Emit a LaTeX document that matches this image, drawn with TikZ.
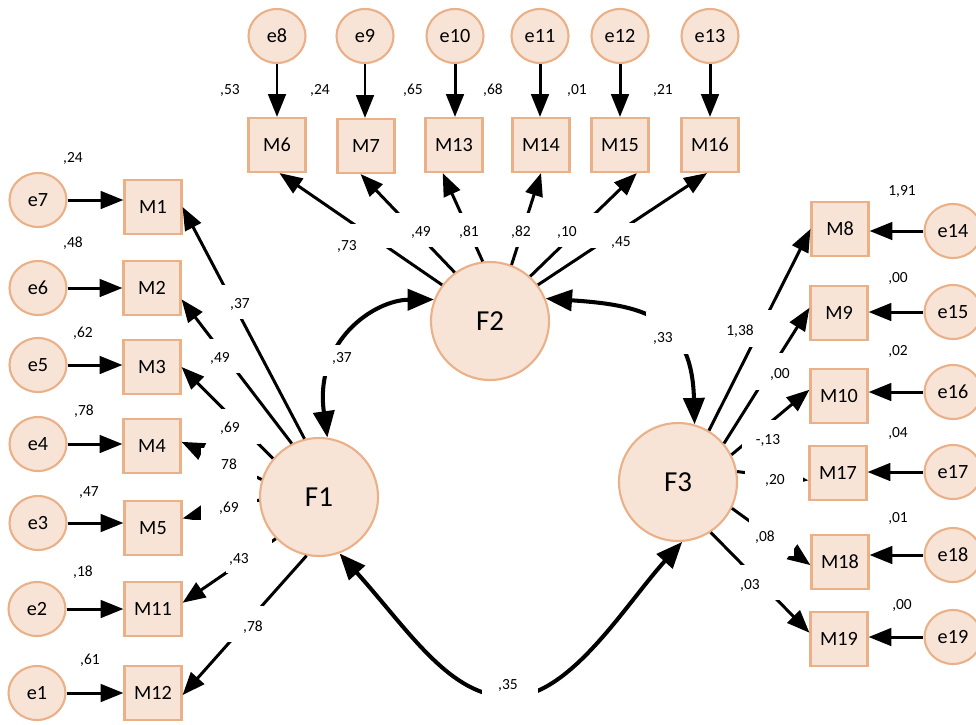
\documentclass[tikz,border=0pt]{standalone}
\usepackage{fontspec}
\setmainfont{Carlito}
\usetikzlibrary{arrows.meta,shapes.geometric}
\definecolor{nodefill}{HTML}{F7E4D6}
\definecolor{nodeline}{HTML}{EAB087}
\tikzset{
  obs/.style={rectangle, draw=nodeline, fill=nodefill, line width=1.2pt,
    minimum width=1.14cm, minimum height=1.08cm, inner sep=0pt,
    font=\fontsize{11.5}{13}\selectfont},
  err/.style={ellipse, draw=nodeline, fill=nodefill, line width=1.2pt,
    minimum width=1.14cm, minimum height=1.08cm, inner sep=0pt,
    font=\fontsize{11.5}{13}\selectfont},
  lat/.style={circle, draw=nodeline, fill=nodefill, line width=1.2pt,
    minimum size=2.36cm, inner sep=0pt, font=\fontsize{16.5}{18}\selectfont},
  regarrow/.style={line width=1.7pt, -{Triangle[length=13pt,width=10pt]}},
  covarrow/.style={line width=2.3pt,
    {Triangle[length=15pt,width=12pt]}-{Triangle[length=15pt,width=12pt]}},
  coef/.style={inner sep=0pt, font=\fontsize{8.8}{10}\selectfont},
  labelmask/.style={fill=white},
}
\begin{document}
\begin{tikzpicture}[x=0.02cm, y=-0.02cm]
\useasboundingbox (0,0) rectangle (976,724);

% latent factors
\node[lat] (F1) at (319,497) {F1};
\node[lat] (F2) at (490,321) {F2};
\node[lat] (F3) at (678,482) {F3};

% left block: indicators of F1 and their errors
\node[obs] (M1)  at (153,207) {M1};
\node[obs] (M2)  at (152,288) {M2};
\node[obs] (M3)  at (152,367) {M3};
\node[obs] (M4)  at (152,446) {M4};
\node[obs] (M5)  at (153,528) {M5};
\node[obs] (M11) at (153,609) {M11};
\node[obs] (M12) at (153,693) {M12};
\node[err] (e7) at (38,200) {e7};
\node[err] (e6) at (38,288) {e6};
\node[err] (e5) at (38,365) {e5};
\node[err] (e4) at (38,444) {e4};
\node[err] (e3) at (38,523) {e3};
\node[err] (e2) at (37,609) {e2};
\node[err] (e1) at (37,693) {e1};

% top block: indicators of F2 and their errors
\node[obs] (M6)  at (277,145) {M6};
\node[obs] (M7)  at (366,146) {M7};
\node[obs] (M13) at (454,145) {M13};
\node[obs] (M14) at (541,145) {M14};
\node[obs] (M15) at (620,145) {M15};
\node[obs] (M16) at (710,145) {M16};
\node[err] (e8)  at (277,36) {e8};
\node[err] (e9)  at (365,36) {e9};
\node[err] (e10) at (455,36) {e10};
\node[err] (e11) at (540,36) {e11};
\node[err] (e12) at (620,36) {e12};
\node[err] (e13) at (710,36) {e13};

% right block: indicators of F3 and their errors
\node[obs] (M8)  at (840,229) {M8};
\node[obs] (M9)  at (839,313) {M9};
\node[obs] (M10) at (839,396) {M10};
\node[obs] (M17) at (838,473) {M17};
\node[obs] (M18) at (840,562) {M18};
\node[obs] (M19) at (839,639) {M19};
\node[err] (e14) at (953,231) {e14};
\node[err] (e15) at (953,312) {e15};
\node[err] (e16) at (953,392) {e16};
\node[err] (e17) at (953,472) {e17};
\node[err] (e18) at (953,555) {e18};
\node[err] (e19) at (953,637) {e19};

% error terms
\foreach \e/\m in {e7/M1,e6/M2,e5/M3,e4/M4,e3/M5,e2/M11,e1/M12}
  \draw[regarrow] (\e) -- (\e -| \m.west);
\foreach \e/\m in {e8/M6,e9/M7,e10/M13,e11/M14,e12/M15,e13/M16}
  \draw[regarrow] (\e) -- (\e |- \m.north);
\foreach \e/\m in {e14/M8,e15/M9,e16/M10,e17/M17,e18/M18,e19/M19}
  \draw[regarrow] (\e) -- (\e -| \m.east);

% loadings of F1
\draw[regarrow] (F1.104) -- (M1.east);
\draw[regarrow] (F1.117) -- (M2.-21);
\draw[regarrow] (F1.140) -- (M3.east);
\draw[regarrow] (F1.163) -- (M4.8);
\draw[regarrow] (F1.183) -- (M5.18);
\draw[regarrow] (F1.224) -- (M11.12);
\draw[regarrow] (F1.258) -- (M12.-4);

% loadings of F2
\draw[regarrow] (F2.143) -- (M6.-85);
\draw[regarrow] (F2.126) -- (M7.-101);
\draw[regarrow] (F2.97)  -- (M13.-112);
\draw[regarrow] (F2.69)  -- (M14.south);
\draw[regarrow] (F2.48)  -- (M15.-59);
\draw[regarrow] (F2.37)  -- (M16.-96);

% loadings of F3
\draw[regarrow] (F3.59)  -- (M8.west);
\draw[regarrow] (F3.40)  -- (M9.170);
\draw[regarrow] (F3.27)  -- (M10.168);
\draw[regarrow] (F3.10)  -- (M17.194);
\draw[regarrow] (F3.-26) -- (M18.186);
\draw[regarrow] (F3.-57) -- (M19.168);

% factor covariances
\draw[covarrow] (F1.82) .. controls (314,340) and (375,300) .. (F2.159);
\draw[covarrow] (F2.22) .. controls (640,305) and (692,315) .. (F3.74);
\draw[covarrow] (F1.-70) .. controls (410,632) and (450,697) .. (510,697)
                         .. controls (570,697) and (625,605) .. (F3.-86);

% white text boxes behind the coefficients
\path[labelmask] (218,285) rectangle (255,319);
\path[labelmask] (205,339) rectangle (240,373);
\path[labelmask] (220,409) rectangle (260,444);
\path[labelmask] (201,448) rectangle (257,520);
\path[labelmask] (183,520) rectangle (257,535);
\path[labelmask] (226,539) rectangle (272,573);
\path[labelmask] (228,606) rectangle (270,642);
\path[labelmask] (318,345) rectangle (355,376);
\path[labelmask] (335,224) rectangle (392,248);
\path[labelmask] (394,213) rectangle (600,247);
\path[labelmask] (586,223) rectangle (645,248);
\path[labelmask] (646,312) rectangle (692,354);
\path[labelmask] (725,310) rectangle (772,347);
\path[labelmask] (755,353) rectangle (800,390);
\path[labelmask] (742,420) rectangle (792,462);
\path[labelmask] (745,462) rectangle (803,495);
\path[labelmask] (749,500) rectangle (794,556);
\path[labelmask] (738,565) rectangle (790,600);
\path[labelmask] (482,665) rectangle (538,712);

% error variances, left
\node[coef] (c1) at (73,158) {,24};
\node[coef] (c2) at (73,243) {,48};
\node[coef] (c3) at (83,333) {,62};
\node[coef] (c4) at (84,411) {,78};
\node[coef] (c5) at (89,493) {,47};
\node[coef] (c6) at (83,572) {,18};
\node[coef] (c7) at (90,660) {,61};
% loadings of F1
\node[coef] (c8)  at (240,304) {,37};
\node[coef] (c9)  at (220,358) {,49};
\node[coef] (c10) at (230,428) {,69};
\node[coef] (c11) at (229,464) {78};
\node[coef] (c12) at (229,508) {,69};
\node[coef] (c13) at (239,559) {,43};
\node[coef] (c14) at (253,627) {,78};
% error variances, top
\node[coef] (c15) at (230,90) {,53};
\node[coef] (c16) at (320,90) {,24};
\node[coef] (c17) at (413,90) {,65};
\node[coef] (c18) at (493,90) {,68};
\node[coef] (c19) at (577,90) {,01};
\node[coef] (c20) at (663,90) {,21};
% loadings of F2
\node[coef] (c21) at (347,246) {,73};
\node[coef] (c22) at (421,232) {,49};
\node[coef] (c23) at (469,232) {,81};
\node[coef] (c24) at (521,232) {,82};
\node[coef] (c25) at (567,232) {,10};
\node[coef] (c26) at (621,243) {,45};
% covariances
\node[coef] (c27) at (342,358) {,37};
\node[coef] (c28) at (663,338) {,33};
\node[coef] (c29) at (508,685) {,35};
% loadings of F3
\node[coef] (c30) at (740,331) {1,38};
\node[coef] (c31) at (780,374) {,00};
\node[coef] (c32) at (768,440) {-,13};
\node[coef] (c33) at (775,480) {,20};
\node[coef] (c34) at (765,537) {,08};
\node[coef] (c35) at (750,585) {,03};
% error variances, right
\node[coef] (c36) at (902,191) {1,91};
\node[coef] (c37) at (898,278) {,00};
\node[coef] (c38) at (898,351) {,02};
\node[coef] (c39) at (898,433) {,04};
\node[coef] (c40) at (898,518) {,01};
\node[coef] (c41) at (902,605) {,00};
\end{tikzpicture}
\end{document}
